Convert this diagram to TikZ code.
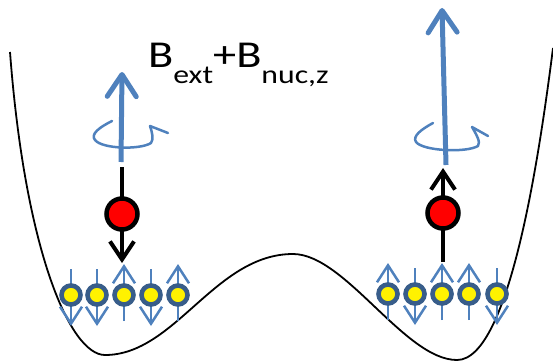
\documentclass[tikz,border=0pt]{standalone}
\usepackage{fontspec}
\setmainfont{Carlito}
\usetikzlibrary{arrows.meta,calc}
\definecolor{spinblue}{HTML}{4F81BD}
\definecolor{ringblue}{HTML}{385D8A}
\newcommand\lowtext[1]{\raisebox{-16pt}{\fontsize{26}{28}\selectfont #1}}
\begin{document}
\begin{tikzpicture}[x=1pt,y=-1pt,
  well/.style={line width=1.8pt,black},
  nucleus/.style={circle,draw=ringblue,line width=4.6pt,fill=yellow,minimum size=19pt,inner sep=0pt},
  electron/.style={circle,draw=black,line width=4.5pt,fill=red,minimum size=31pt,inner sep=0pt},
  fieldarrow/.style={spinblue,line width=5pt,-{Straight Barb[length=22pt,width=29pt,round]}},
  elspin/.style={black,line width=4pt,-{Straight Barb[length=18pt,width=24pt]}},
  nucspin/.style={spinblue,line width=2.5pt,-{Straight Barb[length=17pt,width=22pt]}},
  swirl/.style={spinblue,line width=2.5pt,line cap=round,line join=round},
  label/.style={font=\fontsize{38}{42}\selectfont,inner sep=0pt,anchor=base west}]
\useasboundingbox (0,0) rectangle (553,361);

% double-well potential
\draw[well] (10,52) .. controls (25,250) and (70,355) .. (105,355)
  .. controls (175,355) and (215,254) .. (293,254)
  .. controls (345,254) and (405,360) .. (457,360)
  .. controls (510,360) and (540,150) .. (553,48);

% field label (set slightly wide)
\node[label] (field) at (148,67) {\scalebox{1.22}[1]{B\lowtext{ext}+B\lowtext{nuc,z}}};

% left well: effective field and precession
\coordinate (fLbase) at (121,162);
\coordinate (fLtip) at (122,72);
\draw[fieldarrow] (fLbase) -- (fLtip);
\draw[swirl] (112,121) .. controls (100,127) and (90,134) .. (95,140)
  .. controls (102,149) and (140,150) .. (151,143)
  .. controls (154,139) and (152,132) .. (150,126) -- (168,133);

% right well: effective field and precession
\coordinate (fRbase) at (446,165);
\coordinate (fRtip) at (442,8);
\draw[fieldarrow] (fRbase) -- (fRtip);
\draw[swirl] (433,123) .. controls (422,129) and (412,136) .. (416,142)
  .. controls (423,151) and (466,153) .. (478,146)
  .. controls (481,142) and (476,134) .. (472,127) -- (488,136);

% electron spins
\coordinate (eLtop) at (122,167);
\coordinate (eLtip) at (122,263);
\draw[elspin] (eLtop) -- (eLtip);
\node[electron] (eL) at (122,214) {};

\coordinate (eRbot) at (443,262);
\coordinate (eRtip) at (443,168);
\draw[elspin] (eRbot) -- (eRtip);
\node[electron] (eR) at (443,213) {};

% nuclear spin baths
\foreach \name/\x/\y/\dir in {nL1/71/295/-1, nL2/97/295/-1, nL3/124/295/1, nL4/151/295/-1, nL5/178/295/1,
                              nR1/388/294/1, nR2/415/294/-1, nR3/442/294/1, nR4/469/294/1, nR5/497/294/-1}{
  \coordinate (\name) at (\x,\y);
  \ifnum\dir=1
    \draw[nucspin] ($(\name)+(0,26)$) -- ($(\name)+(0,-31)$);
  \else
    \draw[nucspin] ($(\name)+(0,-26)$) -- ($(\name)+(0,31)$);
  \fi
  \node[nucleus] (\name c) at (\name) {};
}
\end{tikzpicture}
\end{document}
